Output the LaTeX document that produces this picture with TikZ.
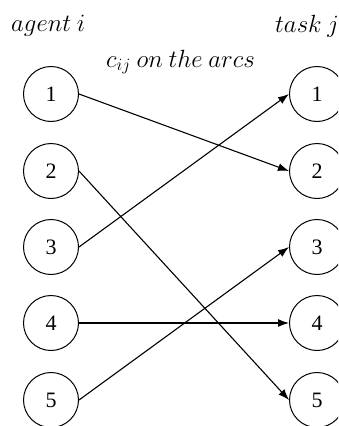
\documentclass[tikz,border=0pt]{standalone}
\usepackage{amstext,amsmath,amsfonts}
\usepackage{fontspec}
\setmainfont{Liberation Serif}
\usepackage{tikz}
\usetikzlibrary{arrows.meta}

\tikzset{
    vertex/.style={draw,circle,line width=1pt,minimum size=55pt,inner sep=0pt,font=\fontsize{22}{26}\selectfont},
    arc/.style={line width=1.1pt,-{Latex[length=11pt,width=8pt]}},
    lbl/.style={anchor=west,inner sep=0pt,font=\fontsize{23}{28}\selectfont}
}

\begin{document}
\begin{tikzpicture}[x=1pt,y=-1pt]
    \clip (0,0) rectangle (338,426) ;

    \node[lbl] (agent) at (11,26) {$agent\ i$} ;
    \node[lbl] (task) at (275,26) {$task\ j$} ;
    \node[lbl] (cost) at (106,62) {$c_{ij}\ on\ the\ arcs$} ;

    \node[vertex] (a1) at (51,94) {1} ;
    \node[vertex] (a2) at (51,171) {2} ;
    \node[vertex] (a3) at (51,247) {3} ;
    \node[vertex] (a4) at (51,323) {4} ;
    \node[vertex] (a5) at (51,400) {5} ;

    \node[vertex] (t1) at (317,94) {1} ;
    \node[vertex] (t2) at (317,171) {2} ;
    \node[vertex] (t3) at (317,247) {3} ;
    \node[vertex] (t4) at (317,323) {4} ;
    \node[vertex] (t5) at (317,400) {5} ;

    \draw[arc] (a1.east) -- (t2.west) ;
    \draw[arc] (a2.east) -- (t5.west) ;
    \draw[arc] (a3.east) -- (t1.west) ;
    \draw[arc] (a4.east) -- (t4.west) ;
    \draw[arc] (a5.east) -- (t3.west) ;
\end{tikzpicture}
\end{document}
